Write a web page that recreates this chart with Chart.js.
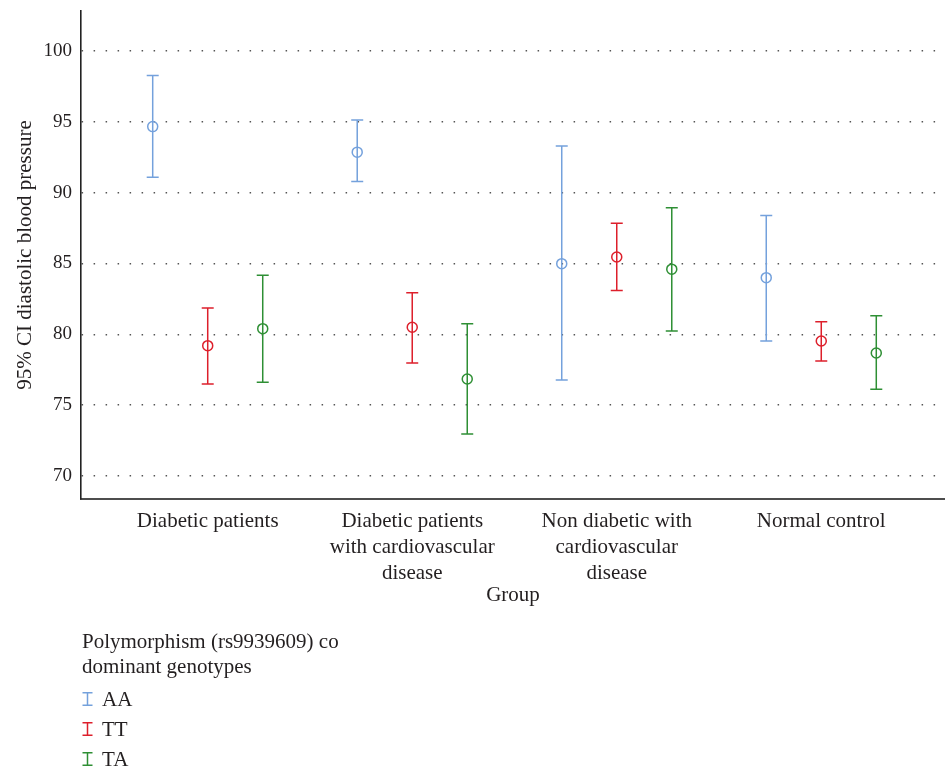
<!DOCTYPE html>
<html>
<head>
<meta charset="utf-8">
<script src="https://cdn.jsdelivr.net/npm/chart.js@4/dist/chart.umd.min.js"></script>
<style>
  html, body { margin: 0; padding: 0; background: #fff; }
  #wrap { position: relative; width: 945px; height: 769px; }
  #c { position: absolute; left: 0; top: 0; }
  #legend { position: absolute; left: 82px; top: 629px; font-family: 'Liberation Serif', 'Times New Roman', serif; font-size: 21px; color: #231f20; }
  #legend .title { line-height: 25px; }
  #legend .items { margin-top: 5px; }
  #legend .item { height: 30px; line-height: 30px; display: flex; align-items: center; }
  #legend svg { margin-right: 9px; }
</style>
</head>
<body>
<div id="wrap">
  <canvas id="c" width="945" height="769"></canvas>
  <div id="legend"></div>
</div>
<script>
// ---- data ----
const categories = [
  ["Diabetic patients"],
  ["Diabetic patients", "with cardiovascular", "disease"],
  ["Non diabetic with", "cardiovascular", "disease"],
  ["Normal control"]
];
const seriesNames = ["AA", "TT", "TA"];
const seriesColors = ["#74a1dc", "#dd1f2b", "#2e8f34"];

const aaMean  = [94.66, 92.86, 84.99, 84.00];
const aaLower = [91.09, 90.78, 76.78, 79.53];
const aaUpper = [98.26, 95.13, 93.30, 88.38];

const ttMean  = [79.20, 80.50, 85.46, 79.53];
const ttLower = [76.50, 77.98, 83.10, 78.12];
const ttUpper = [81.86, 82.94, 87.84, 80.89];

const taMean  = [80.40, 76.85, 84.60, 78.68];
const taLower = [76.62, 72.97, 80.24, 76.12];
const taUpper = [84.17, 80.75, 88.94, 81.32];

const yTicks = [70, 75, 80, 85, 90, 95, 100];
const yTitle = "95% CI diastolic blood pressure";
const xTitle = "Group";
const legendTitle = ["Polymorphism (rs9939609) co", "dominant genotypes"];

// ---- build ----
const FONT = "'Liberation Serif', 'Times New Roman', serif";
const TEXT = "#231f20";
const groupOffset = 0.269;
const means = [aaMean, ttMean, taMean];
const lowers = [aaLower, ttLower, taLower];
const uppers = [aaUpper, ttUpper, taUpper];

const datasets = seriesNames.map((name, s) => ({
  label: name,
  data: categories.map((_, i) => ({
    x: i + (s - 1) * groupOffset,
    y: means[s][i],
    lo: lowers[s][i],
    hi: uppers[s][i]
  })),
  borderColor: seriesColors[s],
  backgroundColor: 'rgba(0,0,0,0)',
  pointStyle: 'circle',
  pointRadius: 5,
  pointBorderWidth: 1.5,
  showLine: false
}));

const errorBars = {
  id: 'errorBars',
  afterDatasetsDraw(chart) {
    const ctx = chart.ctx;
    const xs = chart.scales.x, ys = chart.scales.y;
    chart.data.datasets.forEach((ds) => {
      ctx.save();
      ctx.strokeStyle = ds.borderColor;
      ctx.lineWidth = 1.5;
      ds.data.forEach((p) => {
        const x = xs.getPixelForValue(p.x);
        const yl = ys.getPixelForValue(p.lo);
        const yh = ys.getPixelForValue(p.hi);
        const w = 6;
        ctx.beginPath();
        ctx.moveTo(x, yh); ctx.lineTo(x, yl);
        ctx.moveTo(x - w, yh); ctx.lineTo(x + w, yh);
        ctx.moveTo(x - w, yl); ctx.lineTo(x + w, yl);
        ctx.stroke();
      });
      ctx.restore();
    });
  }
};

new Chart(document.getElementById('c'), {
  type: 'scatter',
  data: { datasets },
  options: {
    responsive: false,
    animation: false,
    devicePixelRatio: 1,
    layout: { autoPadding: false, padding: { top: 11, right: 0, left: 0, bottom: 0 } },
    plugins: { legend: { display: false }, tooltip: { enabled: false } },
    scales: {
      x: {
        type: 'linear',
        min: -0.6196,
        max: 3.605,
        afterBuildTicks(scale) { scale.ticks = categories.map((_, i) => ({ value: i })); },
        afterFit(scale) { scale.height = 270; scale.paddingLeft = 0; scale.paddingRight = 0; },
        ticks: {
          autoSkip: false, maxRotation: 0, minRotation: 0, padding: 9,
          color: TEXT, font: { family: FONT, size: 21, lineHeight: '26px' },
          callback: (v) => categories[Math.round(v)] || ''
        },
        grid: { display: false, drawTicks: false },
        border: { display: true, color: '#4d4d4d', width: 2 },
        title: { display: true, text: xTitle, color: TEXT, font: { family: FONT, size: 21, lineHeight: 1.2 }, padding: { top: 0, bottom: 161 } }
      },
      y: {
        min: 68.38,
        max: 102.82,
        afterBuildTicks(scale) { scale.ticks = yTicks.map(v => ({ value: v })); },
        afterFit(scale) { scale.width = 81; scale.paddingTop = 0; scale.paddingBottom = 0; },
        ticks: { padding: 9, color: TEXT, font: { family: FONT, size: 19 } },
        grid: { display: true, drawTicks: false, color: '#555', lineWidth: 1.5 },
        border: { display: true, color: '#222', width: 1.6, dash: [1.5, 10.5] },
        title: { display: true, text: yTitle, color: TEXT, font: { family: FONT, size: 21, lineHeight: 1.2 }, padding: { top: 13, bottom: 0 } }
      }
    }
  },
  plugins: [errorBars]
});

// ---- legend (HTML text) ----
const lg = document.getElementById('legend');
const t = document.createElement('div');
t.className = 'title';
t.innerHTML = legendTitle.join('<br>');
lg.appendChild(t);
const items = document.createElement('div');
items.className = 'items';
seriesNames.forEach((name, s) => {
  const row = document.createElement('div');
  row.className = 'item';
  const c = seriesColors[s];
  row.innerHTML = '<svg width="11" height="14" viewBox="0 0 11 14"><path d="M0.5 0.75H10.5M5.5 0.75V13.25M0.5 13.25H10.5" stroke="' + c + '" stroke-width="1.5" fill="none"/></svg><span>' + name + '</span>';
  items.appendChild(row);
});
lg.appendChild(items);
</script>
</body>
</html>
